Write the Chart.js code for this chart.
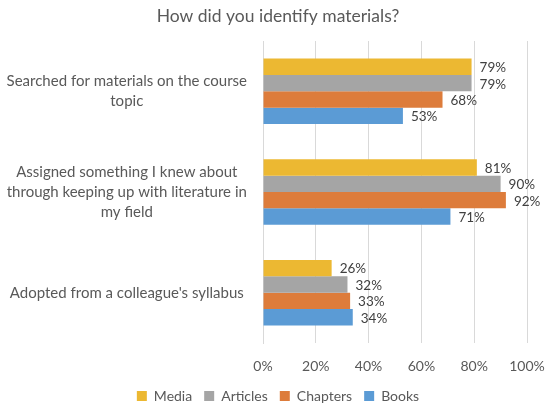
<!DOCTYPE html>
<html>
<head>
<meta charset="utf-8">
<script src="https://cdn.jsdelivr.net/npm/chart.js@4"></script>
<style>
  html, body { margin: 0; padding: 0; background: #ffffff; }
  #wrap { width: 556px; height: 406px; position: relative; }
</style>
</head>
<body>
<div id="wrap"><canvas id="chart"></canvas></div>
<script>
// categories (y axis), top to bottom
const categories = [
    ["Searched for materials on the course", "topic"],
    ["Assigned something I knew about", "through keeping up with literature in", "my field"],
    ["Adopted from a colleague's syllabus"]
];

// series values in percent
const mediaValues = [79, 81, 26];
const articlesValues = [79, 90, 32];
const chaptersValues = [68, 92, 33];
const booksValues = [53, 71, 34];

// x axis ticks
const xTicks = [0, 20, 40, 60, 80, 100];

const FONT = "Lato, 'Open Sans', sans-serif";

// draws the "79%" labels just past the bar ends
const barLabels = {
    id: "barLabels",
    afterDatasetsDraw(chart) {
        const ctx = chart.ctx;
        ctx.save();
        ctx.font = "13.5px " + FONT;
        ctx.fillStyle = "#404040";
        ctx.textAlign = "left";
        ctx.textBaseline = "middle";
        chart.data.datasets.forEach((ds, i) => {
            const meta = chart.getDatasetMeta(i);
            meta.data.forEach((bar, j) => {
                ctx.fillText(ds.data[j] + "%", bar.x + 8, bar.y + 1);
            });
        });
        ctx.restore();
    }
};

new Chart(document.getElementById("chart").getContext("2d"), {
    type: "bar",
    data: {
        labels: categories,
        datasets: [
            { label: "Media", data: mediaValues, backgroundColor: "#ECB832" },
            { label: "Articles", data: articlesValues, backgroundColor: "#A5A5A5" },
            { label: "Chapters", data: chaptersValues, backgroundColor: "#DD7C3B" },
            { label: "Books", data: booksValues, backgroundColor: "#5B9BD5" }
        ]
    },
    options: {
        indexAxis: "y",
        responsive: true,
        maintainAspectRatio: false,
        animation: false,
        layout: { padding: { left: 0, right: 0, top: 0, bottom: -7 } },
        datasets: {
            bar: { categoryPercentage: 0.65, barPercentage: 1.0 }
        },
        scales: {
            x: {
                min: 0,
                max: 100,
                afterBuildTicks: axis => {
                    axis.ticks = xTicks.map(v => ({ value: v }));
                },
                afterFit: axis => {
                    axis.height = 34;
                    axis.paddingRight = 29;
                },
                grid: { color: "#D9D9D9", drawTicks: false },
                border: { display: false },
                ticks: {
                    padding: 15,
                    color: "#595959",
                    font: { family: FONT, size: 14 },
                    callback: v => v + "%"
                }
            },
            y: {
                grid: { display: false, drawTicks: false },
                border: { display: true, color: "#D9D9D9" },
                afterFit: axis => { axis.width = 263; },
                ticks: {
                    crossAlign: "center",
                    padding: 16,
                    color: "#595959",
                    font: { family: FONT, size: 15, lineHeight: 1.32 }
                }
            }
        },
        plugins: {
            title: {
                display: true,
                text: "How did you identify materials?",
                color: "#595959",
                font: { family: FONT, size: 17.5, weight: "normal" },
                padding: { top: 6, bottom: 14 }
            },
            legend: {
                position: "bottom",
                labels: {
                    color: "#595959",
                    font: { family: FONT, size: 14 },
                    boxWidth: 10,
                    boxHeight: 10,
                    padding: 12
                }
            },
            tooltip: { enabled: false }
        }
    },
    plugins: [barLabels]
});
</script>
</body>
</html>
